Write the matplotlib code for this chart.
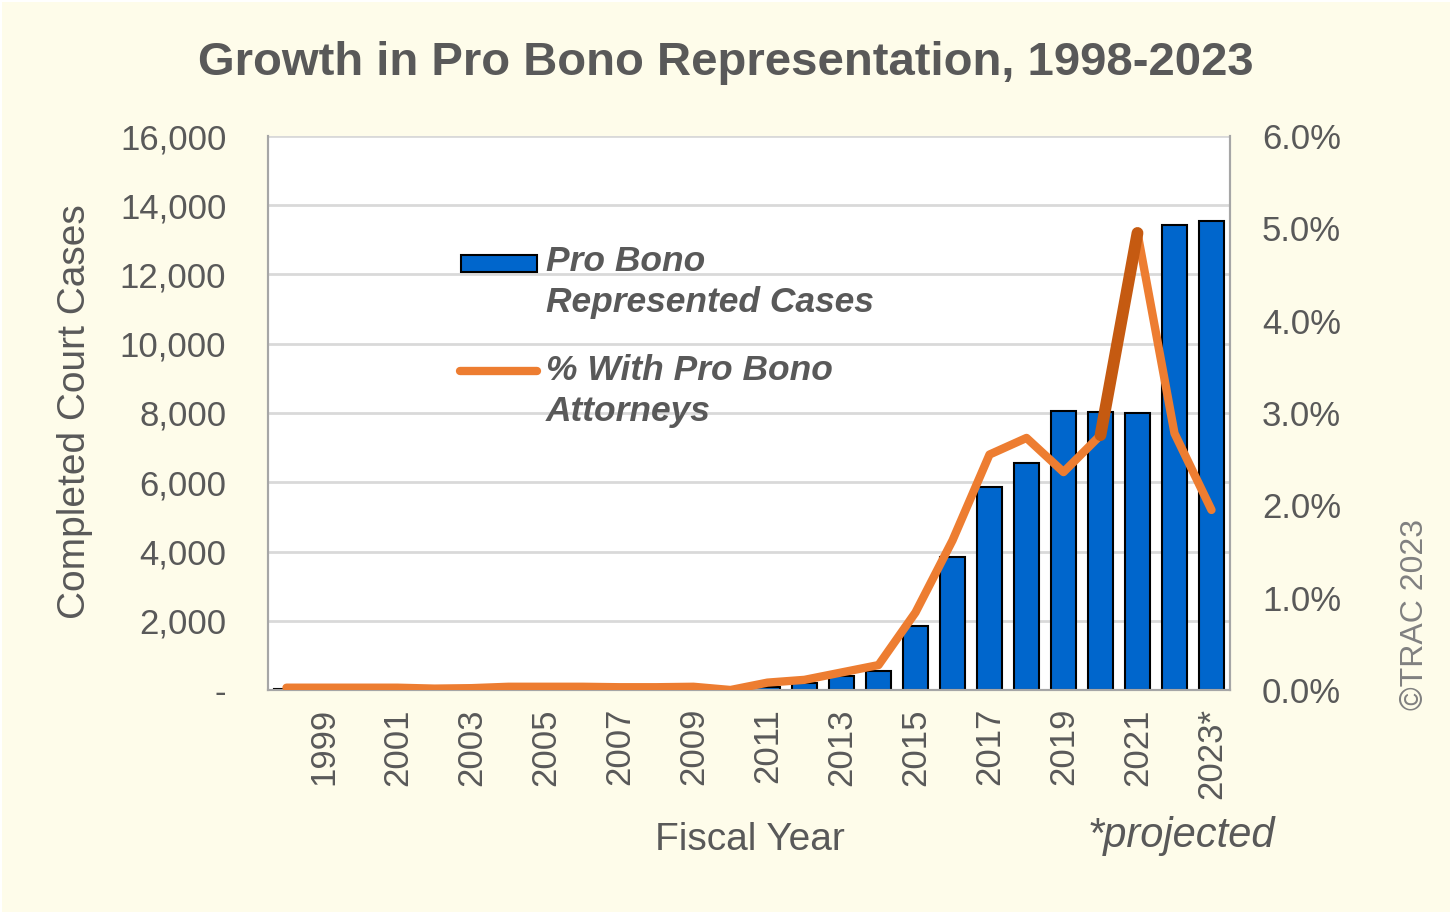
import matplotlib
matplotlib.use("Agg")
import matplotlib.pyplot as plt
from matplotlib.patches import Rectangle
from matplotlib.lines import Line2D
from matplotlib.ticker import FuncFormatter

years = list(range(1998, 2024))
cases = [40, 20, 20, 20, 15, 20, 25, 25, 25, 25, 25, 30, 60, 100,
         210, 400, 560, 1850, 3850, 5850, 6550, 8060, 8030, 7990, 13430, 13550]
pct = [0.025, 0.025, 0.025, 0.025, 0.015, 0.02, 0.035, 0.035, 0.035, 0.03,
       0.03, 0.035, 0.0, 0.08, 0.11, 0.19, 0.27, 0.84, 1.62, 2.55,
       2.73, 2.36, 2.76, 4.95, 2.78, 1.95]
tick_years = [1999, 2001, 2003, 2005, 2007, 2009, 2011, 2013, 2015, 2017, 2019, 2021, 2023]
tick_labels = [str(y) for y in tick_years[:-1]] + ["2023*"]

BG = "#FEFCEA"
GREY = "#595959"
BLUE = "#0066CC"
ORANGE = "#ED7D31"
DARK_ORANGE = "#C55A11"

plt.rcParams["font.family"] = ["Liberation Sans", "DejaVu Sans"]

fig = plt.figure(figsize=(14.56, 9.18), dpi=100)
fig.patch.set_facecolor("white")
fig.patches.append(Rectangle((2 / 1456, 6 / 918), 1448 / 1456, 910 / 918,
                             transform=fig.transFigure, facecolor=BG,
                             edgecolor="none", zorder=-10))

ax = fig.add_axes([268 / 1456, 1 - 690 / 918, 962 / 1456, 554 / 918])
ax.set_facecolor("white")
ax.bar(years, cases, width=0.7, color=BLUE, edgecolor="black", linewidth=1.5, zorder=2)
ax.set_xlim(1997.5, 2023.5)
ax.set_ylim(0, 16000)
ax.set_yticks(range(0, 16001, 2000))
ax.yaxis.set_major_formatter(FuncFormatter(lambda v, p: "-" if v == 0 else f"{int(v):,}"))
ax.grid(axis="y", color="#D9D9D9", linewidth=2, zorder=0)
ax.set_axisbelow(True)
ax.set_xticks(tick_years)
ax.set_xticklabels(tick_labels, rotation=90)
ax.tick_params(axis="x", length=0, pad=13, labelsize=25, labelcolor=GREY)
ax.tick_params(axis="y", length=0, pad=30, labelsize=25, labelcolor=GREY)
for s in ax.spines.values():
    s.set_color("#A6A6A6")
    s.set_linewidth(1.5)
ax.spines["top"].set_visible(False)

ax2 = ax.twinx()
ax2.plot(years, pct, color=ORANGE, linewidth=6, solid_capstyle="round",
         solid_joinstyle="round", zorder=3)
ax2.plot(years[22:24], pct[22:24], color=DARK_ORANGE, linewidth=8.5,
         solid_capstyle="round", zorder=4)
ax2.set_ylim(0, 6)
ax2.set_yticks(range(0, 7))
ax2.yaxis.set_major_formatter(FuncFormatter(lambda v, p: f"{v:.1f}%"))
ax2.tick_params(axis="y", length=0, pad=23, labelsize=25, labelcolor=GREY)
for s in ax2.spines.values():
    s.set_color("#A6A6A6")
    s.set_linewidth(1.5)
ax2.spines["top"].set_visible(False)

# legend drawn by hand to keep the handle on the first text line
ax.add_patch(Rectangle((0.2006, 0.7545), 0.079, 0.031, transform=ax.transAxes,
                       facecolor=BLUE, edgecolor="black", linewidth=1.5, zorder=5))
ax.add_line(Line2D([0.2, 0.28], [0.5758, 0.5758], transform=ax.transAxes,
                   color=ORANGE, linewidth=6, solid_capstyle="round", zorder=5))
ax.text(0.289, 0.7365, "Pro Bono\nRepresented Cases", transform=ax.transAxes,
        fontsize=25.5, fontweight="bold", fontstyle="italic", color=GREY,
        va="center", ha="left", linespacing=1.32, zorder=6)
ax.text(0.289, 0.5397, "% With Pro Bono\nAttorneys", transform=ax.transAxes,
        fontsize=25.5, fontweight="bold", fontstyle="italic", color=GREY,
        va="center", ha="left", linespacing=1.32, zorder=6)

fig.text(726 / 1456, 1 - 63 / 918, "Growth in Pro Bono Representation, 1998-2023",
         fontsize=34, fontweight="bold", color=GREY, ha="center", va="center")
fig.text(75 / 1456, 1 - 412 / 918, "Completed Court Cases", rotation=90,
         fontsize=28, color=GREY, ha="center", va="center")
fig.text(750 / 1456, 1 - 840 / 918, "Fiscal Year", fontsize=28, color=GREY,
         ha="center", va="center")
fig.text(1181 / 1456, 1 - 836 / 918, "*projected", fontsize=30, fontstyle="italic",
         color=GREY, ha="center", va="center")
fig.text(1415 / 1456, 1 - 615 / 918, "©TRAC 2023", rotation=90, fontsize=23,
         color="#808080", ha="center", va="center")

fig.savefig("out.png", dpi=100, facecolor=fig.get_facecolor())
